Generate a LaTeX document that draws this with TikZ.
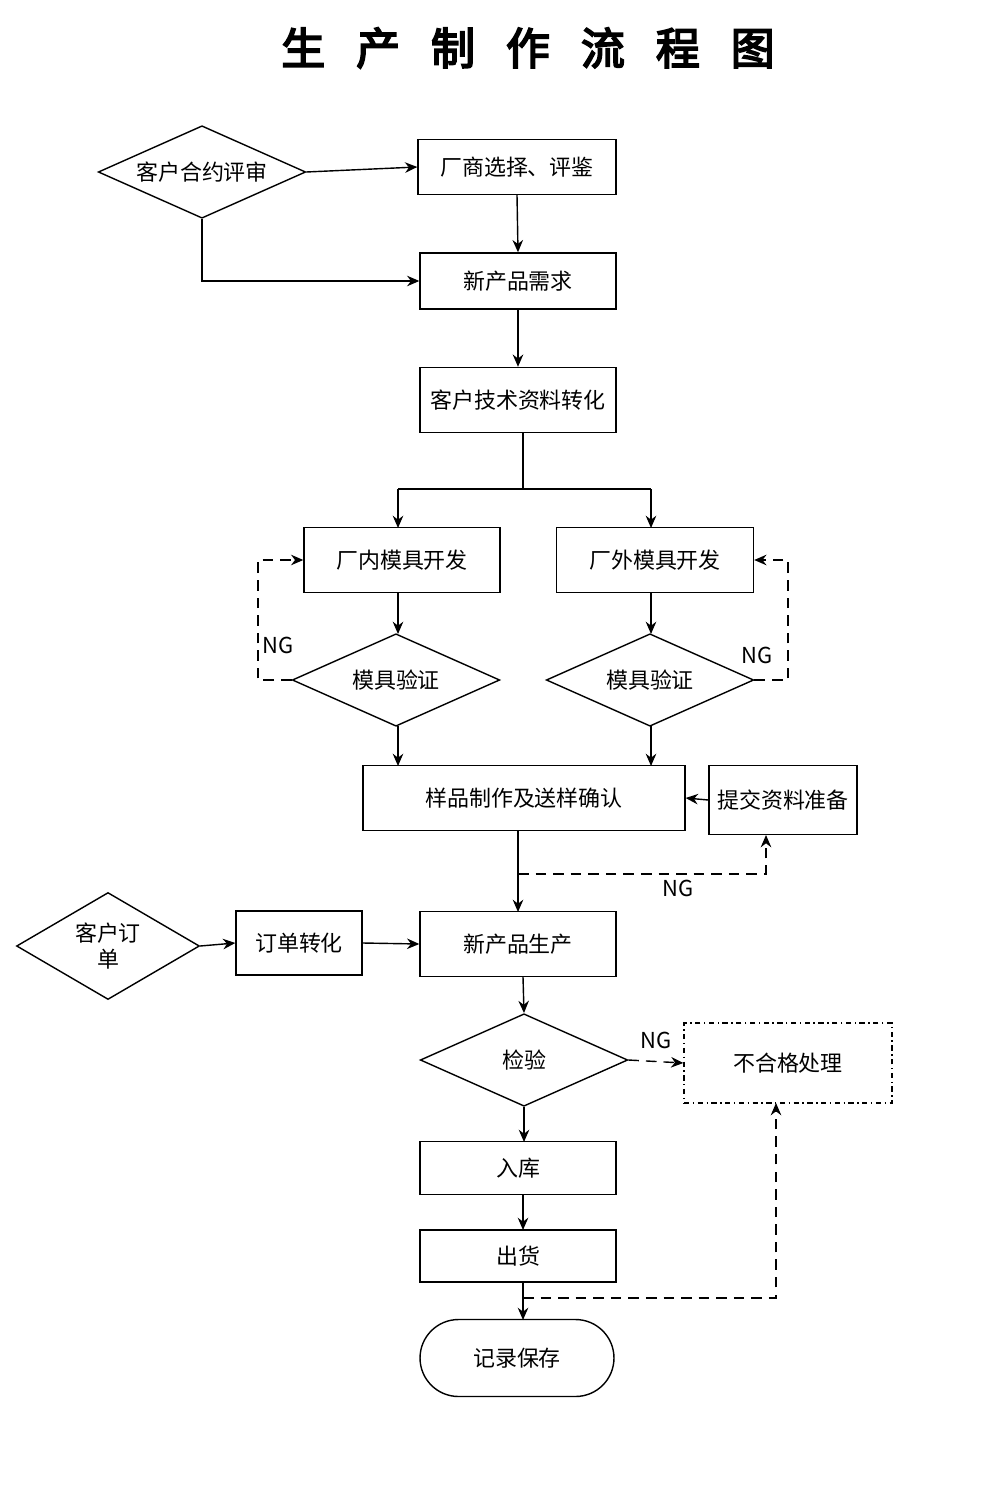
\documentclass[tikz,border=0pt]{standalone}
\usepackage{fontspec}
\setmainfont{Noto Sans CJK SC}
\newfontfamily\titlefont{Noto Sans CJK SC}[FakeBold=4]
\usetikzlibrary{shapes.geometric,shapes.misc,arrows.meta}
\begin{document}
\begin{tikzpicture}[x=0.02cm,y=-0.02cm,
  every node/.style={font=\fontsize{12.5}{15}\selectfont, inner sep=0pt},
  box/.style={draw, thick, rectangle, minimum width=3.92cm, minimum height=1.2cm},
  dia/.style={draw, thick, diamond, aspect=2.2, minimum width=4.15cm, minimum height=1.85cm},
  arr/.style={thick, -{Stealth[length=7pt,width=6pt]}},
  ln/.style={thick},
  dsh/.style={thick, dash pattern=on 6pt off 4pt}]
\useasboundingbox (0,0) rectangle (1000,1496);
\node (title) at (528,48) {\titlefont\fontsize{25}{30}\selectfont 生\hspace{0.62cm}产\hspace{0.62cm}制\hspace{0.62cm}作\hspace{0.62cm}流\hspace{0.62cm}程\hspace{0.62cm}图};
\node[dia] (d1) at (202,172) {客户合约评审};
\node[box, minimum width=3.96cm, minimum height=1.1cm] (b1) at (517,167) {厂商选择、评鉴};
\node[box, minimum height=1.12cm] (b2) at (518,281) {新产品需求};
\node[box, minimum height=1.3cm] (b3) at (518,400) {客户技术资料转化};
\node[box, minimum height=1.3cm] (b4) at (402,560) {厂内模具开发};
\node[box, minimum width=3.94cm, minimum height=1.3cm] (b5) at (655,560) {厂外模具开发};
\node[dia] (d2) at (396,680) {模具验证};
\node[dia] (d3) at (650,680) {模具验证};
\node[box, minimum width=6.44cm, minimum height=1.3cm] (b6) at (524,798) {样品制作及送样确认};
\node[box, minimum width=2.96cm, minimum height=1.38cm] (b7) at (783,800) {提交资料准备};
\node[dia, minimum width=3.66cm, minimum height=2.14cm, aspect=1.7, align=center] (d4) at (108,946) {客户订\\单};
\node[box, minimum width=2.52cm, minimum height=1.28cm] (b8) at (299,943) {订单转化};
\node[box, minimum height=1.3cm] (b9) at (518,944) {新产品生产};
\node[dia] (d5) at (524,1060) {检验};
\node[draw, thick, dash dot, minimum width=4.16cm, minimum height=1.6cm] (b10) at (788,1063) {不合格处理};
\node[box, minimum height=1.06cm] (b11) at (518,1168) {入库};
\node[box, minimum height=1.04cm] (b12) at (518,1256) {出货};
\node[draw, thick, rounded rectangle, minimum width=3.88cm, minimum height=1.54cm] (b13) at (517,1358) {记录保存};
% connectors
\draw[arr] (d1.east) -- (b1.west);
\draw[arr] (d1.south) |- (b2.west);
\draw[arr] (b1.south) -- (b2.north);
\draw[arr] (b2.south) -- (b3.north);
\coordinate (s0) at (523,489);
\draw[ln] (523,432) -- (s0);
\draw[ln] (398,489) -- (651,489);
\draw[arr] (398,489) -- (398,528);
\draw[arr] (651,489) -- (651,528);
\draw[arr] (398,593) -- (398,634);
\draw[arr] (651,593) -- (651,634);
\draw[dsh,-{Stealth[length=7pt,width=6pt]}] (d2.west) -- (258,680) -- (258,560) -- (b4.west);
\node at (278,645) {NG};
\draw[dsh,-{Stealth[length=7pt,width=6pt]}] (d3.east) -- (788,680) -- (788,560) -- (b5.east);
\node at (757,655) {NG};
\draw[arr] (398,726) -- (398,766);
\draw[arr] (651,726) -- (651,766);
\draw[arr] (b7.west) -- (b6.east);
\draw[arr] (518,831) -- (518,912);
\draw[dsh,-{Stealth[length=7pt,width=6pt]}] (518,874) -- (766,874) -- (766,835);
\node at (678,888) {NG};
\draw[arr] (d4.east) -- (b8.west);
\draw[arr] (b8.east) -- (b9.west);
\draw[arr] (523,977) -- (d5.north);
\draw[dsh,-{Stealth[length=7pt,width=6pt]}] (d5.east) -- (b10.west);
\node at (656,1040) {NG};
\draw[arr] (d5.south) -- (524,1142);
\draw[arr] (523,1195) -- (523,1230);
\draw[arr] (523,1282) -- (523,1320);
\draw[dsh,-{Stealth[length=7pt,width=6pt]}] (523,1298) -- (776,1298) -- (776,1103);
\end{tikzpicture}
\end{document}
